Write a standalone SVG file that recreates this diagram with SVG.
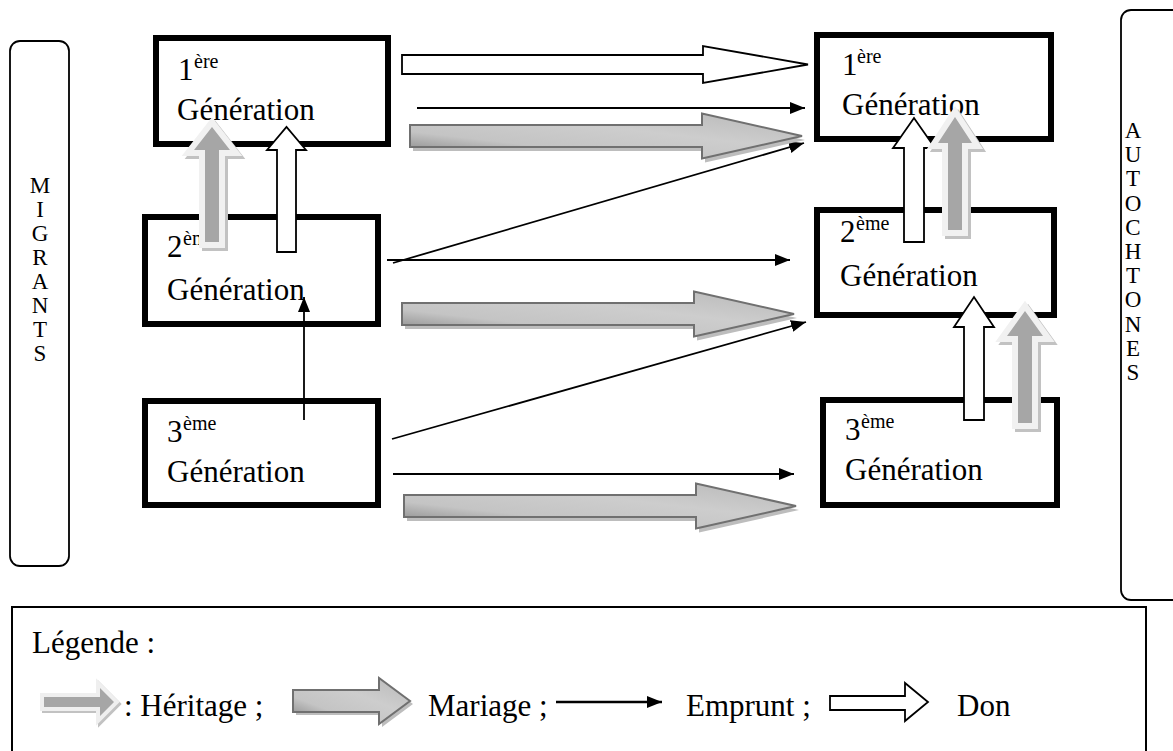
<svg xmlns="http://www.w3.org/2000/svg" width="1173" height="751" viewBox="0 0 1173 751" font-family="'Liberation Serif', 'Times New Roman', serif">
<style>
text{font-family:"Liberation Serif","Times New Roman",serif;fill:#000}
.t{font-size:31px}
.s{font-size:20px}
.v{font-size:23px;text-anchor:middle}
.box{fill:#fff;stroke:#000;stroke-width:6}
.side{fill:#fff;stroke:#000;stroke-width:1.8}
.emp{stroke:#000;stroke-width:1.8;fill:none;marker-end:url(#ah)}
.don{fill:#fff;stroke:#000;stroke-width:1.8;stroke-linejoin:miter}
.mar{fill:url(#mg);stroke:#707070;stroke-width:2}
.msh{fill:#bdbdbd}
.hglow{fill:#f1f1f1;stroke:#f1f1f1;stroke-width:12;stroke-linejoin:miter}
.hsh{fill:#c2c2c2;stroke:#c2c2c2;stroke-width:12;stroke-linejoin:miter}
.hin{fill:#a6a6a6}
</style>
<defs>
<marker id="ah" markerWidth="15" markerHeight="12" refX="15" refY="6" orient="auto" markerUnits="userSpaceOnUse">
<path d="M0,0 L15,6 L0,12 Z" fill="#000"/>
</marker>
<linearGradient id="mg" x1="0" y1="1" x2="1" y2="0">
<stop offset="0" stop-color="#7e7e7e"/>
<stop offset="0.3" stop-color="#c4c4c4"/>
<stop offset="0.6" stop-color="#cdcdcd"/>
<stop offset="1" stop-color="#b8b8b8"/>
</linearGradient>
<path id="marr" d="M0,-11 H292 V-22.5 L392,0 L292,22.5 V11 H0 Z"/>
</defs>

<g id="migrants">
<rect class="side" x="10" y="41" width="59" height="525" rx="10"/>
<text class="v" x="40" y="193">M</text>
<text class="v" x="40" y="217">I</text>
<text class="v" x="40" y="241">G</text>
<text class="v" x="40" y="265">R</text>
<text class="v" x="40" y="289">A</text>
<text class="v" x="40" y="313">N</text>
<text class="v" x="40" y="337">T</text>
<text class="v" x="40" y="361">S</text>
</g>

<g id="autochtones">
<rect class="side" x="1121" y="10" width="80" height="590" rx="10"/>
<text class="v" x="1133" y="138">A</text>
<text class="v" x="1133" y="162">U</text>
<text class="v" x="1133" y="186">T</text>
<text class="v" x="1133" y="211">O</text>
<text class="v" x="1133" y="235">C</text>
<text class="v" x="1133" y="259">H</text>
<text class="v" x="1133" y="283">T</text>
<text class="v" x="1133" y="307">O</text>
<text class="v" x="1133" y="332">N</text>
<text class="v" x="1133" y="356">E</text>
<text class="v" x="1133" y="380">S</text>
</g>

<g id="m1">
<rect class="box" x="156" y="38" width="232" height="106"/>
<text class="t" x="178" y="80">1</text><text class="s" x="194" y="68">ère</text>
<text class="t" x="177" y="120">Génération</text>
</g>
<g id="m2">
<rect class="box" x="145" y="217" width="233" height="107"/>
<text class="t" x="167" y="257">2</text><text class="s" x="183" y="245">ème</text>
<text class="t" x="167" y="300">Génération</text>
</g>
<g id="m3">
<rect class="box" x="145" y="401" width="233" height="104"/>
<text class="t" x="167" y="442">3</text><text class="s" x="183" y="430">ème</text>
<text class="t" x="167" y="482">Génération</text>
</g>
<g id="a1">
<rect class="box" x="817" y="35" width="234" height="104"/>
<text class="t" x="842" y="75">1</text><text class="s" x="857" y="63">ère</text>
<text class="t" x="842" y="115">Génération</text>
</g>
<g id="a2">
<rect class="box" x="817" y="210" width="237" height="105"/>
<text class="t" x="840" y="242">2</text><text class="s" x="856" y="230">ème</text>
<text class="t" x="840" y="286">Génération</text>
</g>
<g id="a3">
<rect class="box" x="823" y="400" width="234" height="105"/>
<text class="t" x="845" y="440">3</text><text class="s" x="861" y="428">ème</text>
<text class="t" x="845" y="480">Génération</text>
</g>

<g id="connectors">
<path class="don" d="M402,55 H703 V46 L808,64.5 L703,83 V74 H402 Z"/>
<line class="emp" x1="417" y1="108" x2="805" y2="108"/>
<line class="emp" x1="393" y1="263" x2="804" y2="143"/>
<line class="emp" x1="387" y1="260" x2="790" y2="260"/>
<line class="emp" x1="392" y1="439" x2="806" y2="322"/>
<line class="emp" x1="393" y1="474" x2="794" y2="474"/>
<line class="emp" x1="304" y1="420" x2="304" y2="297"/>
<use href="#marr" class="msh" transform="translate(413,140)"/>
<use href="#marr" class="mar" transform="translate(410,136)"/>
<use href="#marr" class="msh" transform="translate(405,318)"/>
<use href="#marr" class="mar" transform="translate(402,314)"/>
<use href="#marr" class="msh" transform="translate(407,510)"/>
<use href="#marr" class="mar" transform="translate(404,506)"/>
<path class="don" d="M277,252 V150 H267 L286.5,127 L306,150 H296 V252 Z"/>
<path class="don" d="M904,242 V148 H893 L914,118 L935,148 H924 V242 Z"/>
<path class="don" d="M964,420 V327 H954 L974,297 L994,327 H984 V420 Z"/>
<path class="hsh" transform="translate(3,3)" d="M205,242 V150 H194 L212,127 L230,150 H219 V242 Z"/>
<path class="hglow" d="M205,242 V150 H194 L212,127 L230,150 H219 V242 Z"/>
<path class="hin" d="M205,242 V150 H194 L212,127 L230,150 H219 V242 Z"/>
<path class="hsh" transform="translate(3,3)" d="M948,230 V143 H938 L955,117 L972,143 H962 V230 Z"/>
<path class="hglow" d="M948,230 V143 H938 L955,117 L972,143 H962 V230 Z"/>
<path class="hin" d="M948,230 V143 H938 L955,117 L972,143 H962 V230 Z"/>
<path class="hsh" transform="translate(3,3)" d="M1018,423 V336 H1007 L1025,311 L1043,336 H1032 V423 Z"/>
<path class="hglow" d="M1018,423 V336 H1007 L1025,311 L1043,336 H1032 V423 Z"/>
<path class="hin" d="M1018,423 V336 H1007 L1025,311 L1043,336 H1032 V423 Z"/>
</g>

<g id="legende">
<rect x="12" y="607" width="1134" height="200" fill="none" stroke="#000" stroke-width="2"/>
<text class="t" x="32" y="653">Légende :</text>
<path d="M44,697 H100 V688 L114,702 L100,716 V707 H44 Z" fill="#c2c2c2" stroke="#c2c2c2" stroke-width="8" transform="translate(2,2)"/>
<path d="M44,697 H100 V688 L114,702 L100,716 V707 H44 Z" fill="#a6a6a6" stroke="#efefef" stroke-width="8" stroke-linejoin="miter"/>
<path d="M44,697 H100 V688 L114,702 L100,716 V707 H44 Z" fill="#a6a6a6"/>
<text class="t" x="124" y="716">: Héritage ;</text>
<path d="M293,690 H379 V678 L410,701 L379,724 V712 H293 Z" class="msh" transform="translate(3,3)"/>
<path d="M293,690 H379 V678 L410,701 L379,724 V712 H293 Z" class="mar"/>
<text class="t" x="428" y="716">Mariage ;</text>
<line x1="556" y1="702" x2="662" y2="702" stroke="#000" stroke-width="2.5" marker-end="url(#ah)"/>
<text class="t" x="686" y="716">Emprunt ;</text>
<path class="don" d="M830,696 H905 V683 L928,702 L905,721 V710 H830 Z"/>
<text class="t" x="957" y="716">Don</text>
</g>
</svg>
